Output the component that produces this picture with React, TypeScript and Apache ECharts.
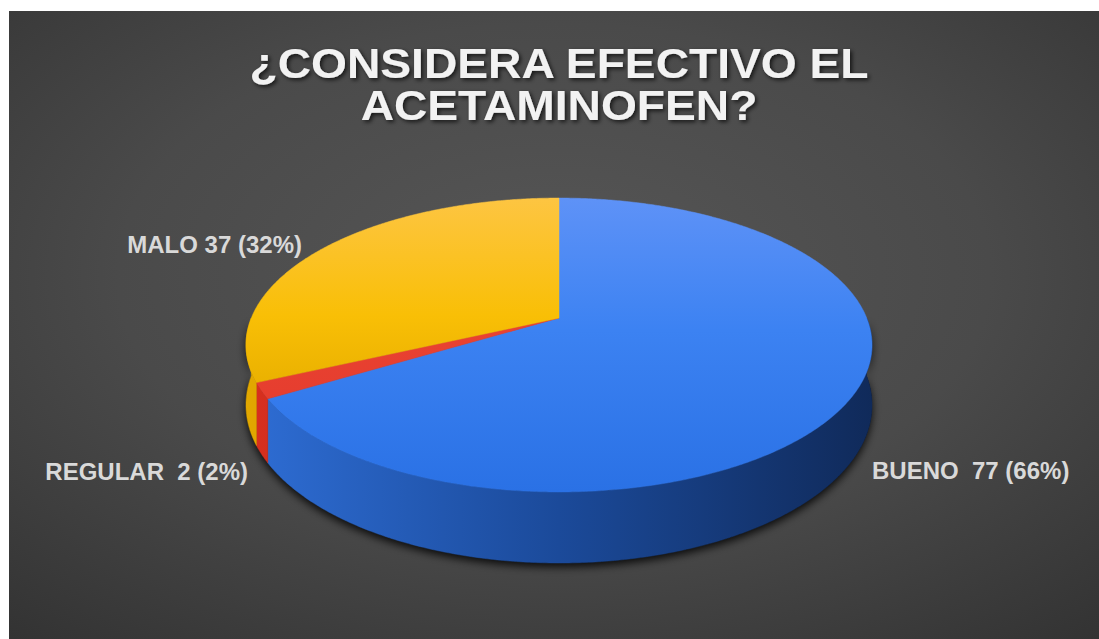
import React, { useEffect, useRef } from 'react';
import * as echarts from 'echarts';

// ---- data ----
const titleLines = ['¿CONSIDERA EFECTIVO EL', 'ACETAMINOFEN?'];
const categories = ['BUENO', 'REGULAR', 'MALO'];
const values = [77, 2, 37];
const labelSeparators = ['  ', '  ', ' '];

// ---- derived ----
const total = values.reduce((a, b) => a + b, 0);
const starts = values.map((_, i) => values.slice(0, i).reduce((a, b) => a + b, 0));
const percents = values.map((v) => Math.round((v / total) * 100));
const labelTexts = categories.map((c, i) => `${c}${labelSeparators[i]}${values[i]} (${percents[i]}%)`);

// ---- geometry / style (not data) ----
const CX = 550;
const CY = 307;
const KX = 307.7;
const KY = 142;
const P = 0.1837;
const DEPTH = 58;
const TOP_Y0 = CY - KY / (1 + P);
const TOP_Y1 = CY + KY / (1 - P);
const SIDE_X0 = CX - 313;
const SIDE_X1 = CX + 313;

const topPalettes = [
  [[0, '#5e92f7'], [0.45, '#3c82f2'], [1, '#2a71e5']],
  [[0, '#ee4a38'], [1, '#e2382a']],
  [[0, '#fdc542'], [0.4, '#f9bf06'], [0.65, '#e9b000'], [1, '#e0a800']],
];
const sidePalettes = [
  [[0, '#2e6dd4'], [0.5, '#1b4a9a'], [1, '#102a5a']],
  [[0, '#d8301f'], [1, '#8a1a10']],
  [[0, '#e2a800'], [1, '#8a6500']],
];
const labelLayout = [
  { x: 863, y: 459, align: 'left' },
  { x: 239, y: 460, align: 'right' },
  { x: 293, y: 233, align: 'right' },
];

function proj(theta: number, drop: number): number[] {
  const u = Math.sin(theta);
  const v = Math.cos(theta);
  const w = 1 + P * v;
  return [CX + (KX * u) / w, CY - (KY * v) / w + drop / w];
}

function stops(p: any[]) {
  return p.map(([offset, color]) => ({ offset, color }));
}

function angles(api: any) {
  const s = api.value(0);
  const v = api.value(1);
  return [(s / total) * 2 * Math.PI, ((s + v) / total) * 2 * Math.PI];
}

function arcPoints(a0: number, a1: number, drop: number) {
  const n = Math.max(2, Math.ceil((a1 - a0) / (Math.PI / 360)));
  const pts: number[][] = [];
  for (let i = 0; i <= n; i++) pts.push(proj(a0 + ((a1 - a0) * i) / n, drop));
  return pts;
}

function wallPoints(a0: number, a1: number) {
  const lo = Math.max(a0, Math.PI / 2);
  const hi = Math.min(a1, 1.5 * Math.PI);
  if (hi <= lo) return null;
  const top = arcPoints(lo, hi, 0);
  const bottom = arcPoints(lo, hi, DEPTH).reverse();
  return top.concat(bottom);
}

const sliceData = categories.map((name, i) => ({ name, value: [starts[i], values[i]] }));

export default function App() {
  const ref = useRef<HTMLDivElement>(null);
  useEffect(() => {
    document.body.style.margin = '0';
    const chart = echarts.init(ref.current!, null, { renderer: 'svg' });
    const font = '"Liberation Sans", Arial, sans-serif';
    chart.setOption({
      animation: false,
      graphic: [
        {
          type: 'rect',
          z: -10,
          silent: true,
          shape: { x: 0, y: 0, width: 1090, height: 628 },
          style: {
            fill: new echarts.graphic.RadialGradient(0.5, 0.42, 1.0, [
              { offset: 0, color: '#565656' },
              { offset: 0.4, color: '#4a4a4a' },
              { offset: 1, color: '#242424' },
            ]),
          },
        },
        ...titleLines.map((t, i) => ({
          type: 'text',
          z: 10,
          silent: true,
          x: 550,
          y: 52 + i * 42,
          scaleX: 1.1,
          style: {
            text: t,
            x: 0,
            y: 0,
            fill: '#f2f2f2',
            font: `bold 42px ${font}`,
            textAlign: 'center',
            textVerticalAlign: 'middle',
            textShadowColor: 'rgba(0,0,0,0.7)',
            textShadowBlur: 4,
            textShadowOffsetX: 2,
            textShadowOffsetY: 2,
          },
        })),
        ...labelTexts.map((t, i) => ({
          type: 'text',
          z: 10,
          silent: true,
          style: {
            text: t,
            x: labelLayout[i].x,
            y: labelLayout[i].y,
            fill: '#d9d9d9',
            font: `bold 24px ${font}`,
            textAlign: labelLayout[i].align,
            textVerticalAlign: 'middle',
          },
        })),
      ],
      series: [
        {
          type: 'custom',
          name: 'shadow',
          coordinateSystem: 'none',
          silent: true,
          z: 1,
          data: [{ name: 'all', value: [0, total] }],
          renderItem: (params: any, api: any) => {
            const [a0, a1] = angles(api);
            const pts = wallPoints(a0, a1);
            if (!pts) return { type: 'group', children: [] };
            return {
              type: 'polygon',
              shape: { points: pts },
              style: {
                fill: '#0d0d0d',
                shadowBlur: 8,
                shadowColor: 'rgba(0,0,0,0.85)',
                shadowOffsetY: 4,
              },
            };
          },
        },
        {
          type: 'custom',
          name: 'sides',
          coordinateSystem: 'none',
          silent: true,
          z: 2,
          data: sliceData,
          renderItem: (params: any, api: any) => {
            const [a0, a1] = angles(api);
            const pts = wallPoints(a0, a1);
            if (!pts) return { type: 'group', children: [] };
            const fill = new echarts.graphic.LinearGradient(
              SIDE_X0, 0, SIDE_X1, 0, stops(sidePalettes[params.dataIndex]), true
            );
            return {
              type: 'polygon',
              shape: { points: pts },
              style: { fill, stroke: fill, lineWidth: 0.5 },
            };
          },
        },
        {
          type: 'custom',
          name: 'tops',
          coordinateSystem: 'none',
          silent: true,
          z: 3,
          data: sliceData,
          renderItem: (params: any, api: any) => {
            const [a0, a1] = angles(api);
            const pts = [[CX, CY]].concat(arcPoints(a0, a1, 0));
            const fill = new echarts.graphic.LinearGradient(
              0, TOP_Y0, 0, TOP_Y1, stops(topPalettes[params.dataIndex]), true
            );
            return {
              type: 'polygon',
              shape: { points: pts },
              style: { fill, stroke: fill, lineWidth: 0.5 },
            };
          },
        },
      ],
    });
    return () => chart.dispose();
  }, []);
  return (
    <div style={{ position: 'absolute', left: 0, top: 0, width: 1099, height: 639, background: '#ffffff' }}>
      <div ref={ref} style={{ position: 'absolute', left: 9, top: 11, width: 1090, height: 628 }} />
    </div>
  );
}
